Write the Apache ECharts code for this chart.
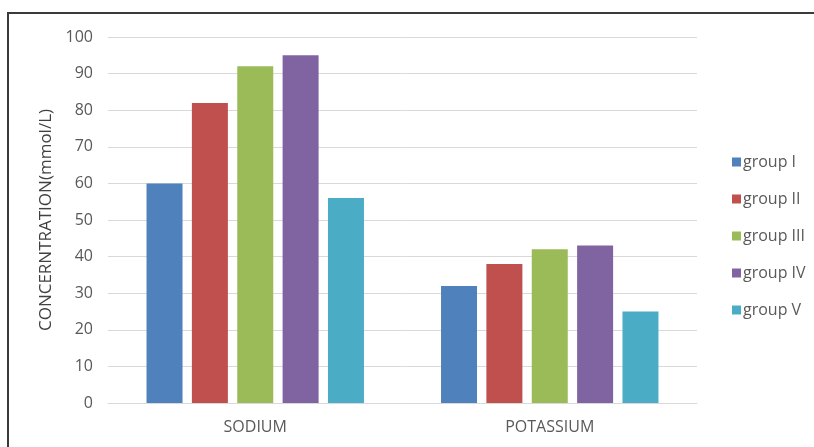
<!DOCTYPE html>
<html>
<head>
<meta charset="utf-8">
<script src="https://cdn.jsdelivr.net/npm/echarts@6/dist/echarts.min.js"></script>
<style>
  html, body { margin: 0; padding: 0; background: #fff; }
  #chart { width: 814px; height: 447px; }
</style>
</head>
<body>
<div id="chart"></div>
<script>
// data
const categories = ['SODIUM', 'POTASSIUM'];
const groups = ['group I', 'group II', 'group III', 'group IV', 'group V'];
const groupValues = [
  [60, 32],
  [82, 38],
  [92, 42],
  [95, 43],
  [56, 25]
];
const colors = ['#4F81BD', '#C0504D', '#9BBB59', '#8064A2', '#4BACC6'];

const font = '"Open Sans", "Liberation Sans", sans-serif';

let myChart = echarts.init(document.getElementById('chart'));

let option = {
  animation: false,
  color: colors,
  textStyle: { fontFamily: font },
  graphic: [
    {
      type: 'rect',
      shape: { x: 8, y: 13, width: 900, height: 500 },
      style: { fill: 'none', stroke: '#3a3a3a', lineWidth: 2 },
      silent: true
    }
  ],
  grid: { left: 108, right: 117, top: 37, bottom: 44 },
  legend: {
    orient: 'vertical',
    left: 727,
    top: 149,
    itemWidth: 9,
    itemHeight: 9,
    itemGap: 21,
    icon: 'rect',
    textStyle: { color: '#595959', fontSize: 16, fontFamily: font, padding: [0, 0, 0, -3] },
    data: groups
  },
  xAxis: {
    type: 'category',
    data: categories,
    axisLine: { lineStyle: { color: '#d9d9d9', width: 1 } },
    axisTick: { show: false },
    axisLabel: { color: '#595959', fontSize: 16, margin: 16, fontFamily: font }
  },
  yAxis: {
    type: 'value',
    min: 0,
    max: 100,
    interval: 10,
    name: 'CONCERNTRATION(mmol/L)',
    nameLocation: 'middle',
    nameGap: 53,
    nameTextStyle: { color: '#404040', fontSize: 17, fontFamily: font },
    axisLine: { show: false },
    axisTick: { show: false },
    axisLabel: { color: '#595959', fontSize: 16, margin: 15, fontFamily: font },
    splitLine: { lineStyle: { color: '#d9d9d9', width: 1 } }
  },
  series: groups.map((g, i) => ({
    name: g,
    type: 'bar',
    data: groupValues[i],
    barWidth: 36,
    barGap: '26%'
  }))
};

myChart.setOption(option);
</script>
</body>
</html>
